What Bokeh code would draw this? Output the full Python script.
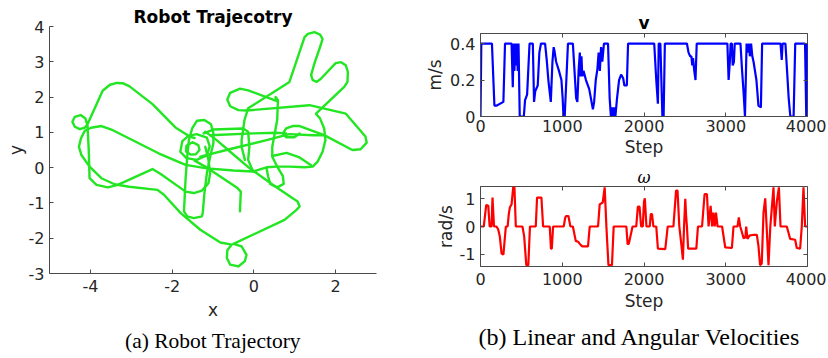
from bokeh.plotting import figure
from bokeh.models import (Range1d, FixedTicker, Title, LinearAxis, ColumnDataSource,
                          CustomJSTickFormatter)
from bokeh.layouts import row, column
from bokeh.embed import file_html
from bokeh.resources import INLINE

# ---------------- trajectory strokes (data units) ----------------
s1_x = [-0.22, -0.30, -0.30, -0.23, -0.14, 0.87, 1.24, 1.32, 1.48, 1.62, 1.68, 1.64, 1.48, 1.40, 1.44,
        1.54, 1.64, 2.00, 2.13, 2.25, 2.30, 2.29, 2.21, 1.52, 1.62, 1.72, 1.75, 1.68, 1.56, 1.44,
        1.24, 0.87, 0.55, 0.31, -0.02, -0.50, -1.15, -1.67, -2.32, -3.45, -3.73, -3.98, -4.14, -4.23, -4.28,
        -4.22, -4.02, -3.73, -3.41, -3.05, -2.36, -2.20, -1.79, -1.31, -0.82, -0.54, -0.65, -0.66, -0.58, -0.38,
        -0.22, -0.18, -0.30, -0.50, 0.75, 1.03, 1.12, 1.07, 0.95, 0.47, -0.10, -0.58, -0.91, -1.19]
s1_y = [0.22, 0.59, 0.78, 1.35, 1.68, 2.43, 3.70, 3.79, 3.84, 3.77, 3.65, 3.49, 2.95, 2.62, 2.48,
        2.43, 2.52, 2.96, 2.99, 2.90, 2.71, 2.43, 2.29, 1.53, 1.39, 1.11, 0.78, 0.45, 0.17, 0.03,
        0.01, 0.03, 0.03, 0.01, -0.11, -0.08, -0.02, 0.08, 0.40, 1.06, 1.18, 1.13, 1.04, 0.83, 0.59,
        0.36, 0.03, -0.30, -0.47, -0.54, -0.63, -0.77, -1.29, -1.76, -2.12, -2.18, -2.34, -2.56, -2.75, -2.80,
        -2.65, -2.47, -2.23, -2.16, -1.48, -1.21, -1.10, -0.96, -0.87, -0.49, -0.02, 0.45, 0.78, 1.02]

s2_x = [-1.45, -1.55, -1.92, -2.48, -3.05, -3.20, -3.35, -3.52, -3.70, -4.07, -4.14, -4.26, -4.38, -4.44,
        -4.38, -4.24, -4.12, -4.07, -4.04, -4.02, -3.85, -3.57, -3.33, -2.48, -2.28, -1.67, -1.47, -1.27,
        -1.11, -1.07, -1.11, -1.19]
s2_y = [0.84, 0.87, 1.14, 1.80, 2.31, 2.39, 2.40, 2.35, 2.18, 1.23, 1.13, 1.09, 1.16, 1.30,
        1.44, 1.49, 1.39, 1.20, 0.50, -0.30, -0.49, -0.56, -0.49, -0.04, -0.18, -0.68, -0.72, -0.65,
        -0.44, -0.16, 0.22, 0.59]

s3_x = [-0.99, -0.99, -1.05, -1.21, -1.39, -1.51, -1.59, -1.63, -1.67, -1.71, -1.63, -1.47, -1.27, -1.25,
        -1.21, -1.15, -1.07, -0.99]
s3_y = [0.69, 0.97, 1.23, 1.35, 1.33, 1.11, 0.78, 0.31, -0.30, -1.24, -1.38, -1.43, -1.38, -1.27,
        -0.72, -0.16, 0.31, 0.69]

s4_x = [-1.50, -1.36, -1.33, -1.42, -1.55, -1.66, -1.65, -1.50]
s4_y = [0.72, 0.64, 0.50, 0.38, 0.37, 0.46, 0.62, 0.72]

s5_x = [-1.40, -1.15, -1.08, -1.15, -1.40, -1.65, -1.80, -1.75, -1.60, -1.40]
s5_y = [0.95, 0.85, 0.60, 0.35, 0.22, 0.27, 0.45, 0.75, 0.90, 0.95]

s6_x = [-0.18, 1.36, 2.25, 2.73, 2.76, 2.61, 2.41, 1.72, 1.12, 0.95, 0.79, 0.71, 0.79, 0.99, 1.12]
s6_y = [1.62, 1.77, 1.53, 0.88, 0.71, 0.52, 0.50, 0.92, 1.18, 1.18, 1.11, 0.97, 0.86, 0.86, 0.97]

s7_x = [-0.18, -0.38, -0.58, -0.65, -0.58, -0.34, -0.14, 0.55, 0.53, 0.59, 0.57, 0.51, 0.45, 0.45,
        0.57, 0.71, 0.73, 0.57, 0.40, 0.35, 0.31]
s7_y = [1.62, 1.63, 1.74, 1.93, 2.12, 2.24, 2.19, 1.89, 2.00, 1.91, 1.35, 0.97, 0.59, 0.31,
        0.03, -0.24, -0.46, -0.56, -0.46, -0.25, -0.02]

s8_x = [-1.31, -0.50, 0.31, 0.87, 1.44, 1.72]
s8_y = [0.31, 0.55, 0.78, 0.95, 0.92, 0.92]

s9_x = [-1.23, -0.99, -0.26, -0.14, -0.11, -0.14, -0.02]
s9_y = [0.97, 1.08, 1.11, 1.02, 0.59, 0.22, -0.11]

s10_x = [-1.07, -0.02, 0.55, 0.79]
s10_y = [0.92, 0.97, 0.99, 0.97]

s11_x = [0.45, 0.80, 1.10, 1.40]
s11_y = [0.33, 0.42, 0.30, 0.07]

s12_x = [-0.34, -0.32, -0.42, -1.19, -1.45]
s12_y = [-1.24, -0.68, -0.56, 0.03, 0.20]

# ---------------- linear velocity v ----------------
v_step = [0, 10, 140, 170, 200, 280, 300, 380, 395, 405, 415, 425, 435, 445, 455, 465, 480, 530, 545, 570,
          600, 640, 655, 670, 700, 720, 740, 790, 810, 830, 860, 880, 895, 905, 925, 960, 990, 1005, 1015,
          1030, 1050, 1070, 1130, 1150, 1170, 1185, 1200, 1215, 1225, 1235, 1245, 1260, 1290, 1330, 1375,
          1390, 1410, 1430, 1445, 1460, 1475, 1490, 1510, 1560, 1580, 1595, 1610, 1620, 1635, 1650, 1670,
          1695, 1720, 1745, 1760, 1790, 1805, 2125, 2150, 2170, 2180, 2200, 2225, 2240, 2255, 2525, 2545,
          2565, 2580, 2590, 2600, 2615, 2630, 2645, 3020, 3035, 3050, 3060, 3075, 3085, 3100, 3110, 3180,
          3200, 3220, 3235, 3255, 3270, 3285, 3295, 3310, 3325, 3340, 3375, 3400, 3430, 3445, 3670, 3685,
          3695, 3730, 3750, 3770, 3790, 3830, 3850, 3970, 3985, 3995, 4000]
v_val = [0.0, 0.4, 0.4, 0.06, 0.06, 0.08, 0.4, 0.4, 0.16, 0.4, 0.25, 0.4, 0.28, 0.4, 0.25, 0.4, 0.0, 0.0,
         0.09, 0.12, 0.4, 0.4, 0.08, 0.14, 0.17, 0.35, 0.4, 0.4, 0.31, 0.2, 0.08, 0.3, 0.38, 0.36, 0.3, 0.25,
         0.2, 0.1, 0.0, 0.0, 0.2, 0.4, 0.4, 0.25, 0.1, 0.08, 0.25, 0.35, 0.22, 0.33, 0.22, 0.25, 0.2, 0.15,
         0.04, 0.08, 0.2, 0.26, 0.35, 0.25, 0.38, 0.3, 0.4, 0.4, 0.1, 0.0, 0.05, 0.0, 0.05, 0.0, 0.1, 0.2,
         0.23, 0.21, 0.17, 0.17, 0.4, 0.4, 0.2, 0.07, 0.4, 0.4, 0.0, 0.0, 0.4, 0.4, 0.35, 0.33, 0.33, 0.28,
         0.32, 0.25, 0.2, 0.4, 0.4, 0.2, 0.3, 0.4, 0.4, 0.28, 0.3, 0.4, 0.4, 0.25, 0.12, 0.0, 0.4, 0.35,
         0.4, 0.33, 0.4, 0.33, 0.3, 0.2, 0.06, 0.05, 0.4, 0.4, 0.31, 0.4, 0.4, 0.25, 0.1, 0.0, 0.0, 0.4,
         0.4, 0.0, 0.4, 0.38]

# ---------------- angular velocity omega ----------------
w_step = [0, 40, 70, 95, 112, 135, 147, 165, 195, 216, 236, 258, 280, 310, 332, 346, 360, 380, 400, 415,
          432, 513, 534, 560, 585, 605, 676, 692, 745, 766, 847, 862, 872, 888, 1018, 1035, 1045, 1075, 1100,
          1130, 1165, 1193, 1220, 1245, 1315, 1336, 1438, 1458, 1495, 1519, 1540, 1565, 1608, 1629, 1784,
          1800, 1815, 1860, 1905, 1925, 1945, 1965, 1985, 2000, 2010, 2030, 2070, 2083, 2098, 2115, 2150,
          2170, 2260, 2290, 2360, 2392, 2410, 2432, 2455, 2476, 2490, 2505, 2515, 2525, 2540, 2640, 2660,
          2710, 2741, 2770, 2790, 2815, 2833, 2848, 2865, 2880, 2900, 2955, 2994, 3075, 3095, 3144, 3160,
          3177, 3197, 3218, 3240, 3250, 3266, 3290, 3340, 3380, 3400, 3420, 3440, 3462, 3483, 3500, 3523,
          3545, 3584, 3600, 3625, 3650, 3670, 3747, 3788, 3849, 3869, 3910, 3930, 3951, 3971, 4000]
w_val = [0, 0, 0.78, 0.75, 0, 0, 1.05, 0, 0, -0.1, -0.35, -0.98, -1.02, 0, 0, 0.45, 0.7, 0.8, 1.42, 1.42,
         0, 0, -0.35, -1.4, -1.4, 0, 0, 1.05, 1.05, 0, 0, -0.8, -0.8, 0, 0, 0.3, 0.38, 0.38, 0,
         0, -0.52, -0.55, -0.65, -0.72, -0.72, 0, 0, 0.8, 0.87, 1.42, 0, -1.4, -1.4, 0, 0,
         -0.65, -0.62, 0, 0, 0.72, 0.72, 0, 0, 0.9, 1.02, 0, 0, 0.45, 0.45, 0, 0,
         -0.8, -0.82, 0, 0, 1.3, 1.3, 0, -0.6, -1.2, 0, 1.0, 0.4, 0, -0.8, -0.8, 0,
         0, 1.17, 1.17, 0, 0.75, 0, 0.5, 0, 0.5, 0, 0, -0.76, -0.78, 0, 0, 0.33,
         0, -0.2, -0.42, -0.4, 0, -0.45, -0.33, -0.3, -0.3, -0.7, -1.4, -1.35, 0.5, 1.02, 0, -1.4,
         0, 1.42, 0, 0.9, 1.42, 0, 0, -0.45, -0.48, -0.78, -0.8, 0, 1.42, 0, 0]

x_ticks_traj = [-4, -2, 0, 2]
x_labels_traj = ["-4", "-2", "0", "2"]
y_ticks_traj = [-3, -2, -1, 0, 1, 2, 3, 4]
y_labels_traj = ["-3", "-2", "-1", "0", "1", "2", "3", "4"]
step_ticks = [0, 1000, 2000, 3000, 4000]
v_ticks = [0, 0.2, 0.4]
v_labels = ["0", "0.2", "0.4"]
w_ticks = [-1, 0, 1]
w_labels = ["-1", "0", "1"]

AX = "#262626"
AXLINE = "#4a4a4a"
SANS = "DejaVu Sans"


def style_axis(ax, ticks, label, std=5, lstd=2, labels=None):
    ax.ticker = FixedTicker(ticks=ticks)
    if labels is not None:
        ax.major_label_overrides = dict(zip(ticks, labels))
    ax.axis_label = label
    ax.axis_label_text_font = SANS
    ax.axis_label_text_font_size = "17px"
    ax.axis_label_text_font_style = "normal"
    ax.axis_label_text_color = AX
    ax.major_label_text_font = SANS
    ax.major_label_text_font_size = "16px"
    ax.major_label_text_color = AX
    ax.axis_line_color = AXLINE
    ax.major_tick_line_color = AXLINE
    ax.major_tick_in = 4
    ax.major_tick_out = 0
    ax.minor_tick_line_color = None
    ax.major_label_standoff = std
    ax.axis_label_standoff = lstd


def box_ticks(p, xt, yt):
    for loc, t in (("above", xt), ("right", yt)):
        ax = LinearAxis(ticker=FixedTicker(ticks=t),
                        formatter=CustomJSTickFormatter(code="return ''"),
                        major_label_text_font_size="0px", major_label_standoff=0,
                        axis_line_color=None, major_tick_line_color=AXLINE,
                        major_tick_in=4, major_tick_out=0, minor_tick_line_color=None)
        p.add_layout(ax, loc)


def style_title(t, text, font, style, size="17px"):
    t.text = text
    t.align = "center"
    t.text_font = font
    t.text_font_size = size
    t.text_font_style = style
    t.text_color = "black"
    t.standoff = 0


# ---------------- left: trajectory ----------------
p1 = figure(width=420, height=356, x_range=Range1d(-5, 3), y_range=Range1d(-3, 4),
            output_backend="svg", toolbar_location=None,
            min_border_left=49, min_border_right=44, min_border_top=26, min_border_bottom=83)
p1.outline_line_color = None
p1.grid.visible = False
style_title(p1.title, "Robot Trajecotry", SANS, "bold")
style_axis(p1.xaxis[0], x_ticks_traj, "x", std=6, lstd=5, labels=x_labels_traj)
style_axis(p1.yaxis[0], y_ticks_traj, "y", std=5, lstd=0, labels=y_labels_traj)

traj = ColumnDataSource(dict(
    xs=[s1_x, s2_x, s3_x, s4_x, s5_x, s6_x, s7_x, s8_x, s9_x, s10_x, s11_x, s12_x],
    ys=[s1_y, s2_y, s3_y, s4_y, s5_y, s6_y, s7_y, s8_y, s9_y, s10_y, s11_y, s12_y]))
p1.multi_line(xs="xs", ys="ys", source=traj, line_color="#22e622", line_width=2.4,
              line_join="round", line_cap="round")
p1.add_layout(Title(text="(a) Robot Trajectory", align="center", text_font="Liberation Serif",
                    text_font_size="21.5px", text_font_style="normal", text_color="black",
                    standoff=8), "below")

# ---------------- right top: v ----------------
p2 = figure(width=406, height=162, x_range=Range1d(0, 4000), y_range=Range1d(0, 0.455),
            output_backend="svg", toolbar_location=None,
            min_border_left=60, min_border_right=19, min_border_top=33, min_border_bottom=46)
p2.grid.visible = False
p2.outline_line_color = AXLINE
style_title(p2.title, "v", SANS, "bold")
p2.title.standoff = 2
style_axis(p2.xaxis[0], step_ticks, "Step", std=3, lstd=2)
style_axis(p2.yaxis[0], v_ticks, "m/s", std=5, lstd=2, labels=v_labels)
box_ticks(p2, step_ticks, v_ticks)
p2.line(v_step, v_val, line_color="#0000ff", line_width=2.2)

# ---------------- right bottom: omega ----------------
p3 = figure(width=406, height=195, x_range=Range1d(0, 4000), y_range=Range1d(-1.45, 1.45),
            output_backend="svg", toolbar_location=None,
            min_border_left=60, min_border_right=19, min_border_top=24, min_border_bottom=91)
p3.grid.visible = False
p3.outline_line_color = AXLINE
style_title(p3.title, "ω", "DejaVu Serif", "italic", size="16px")
style_axis(p3.xaxis[0], step_ticks, "Step", std=6, lstd=3)
style_axis(p3.yaxis[0], w_ticks, "rad/s", std=5, lstd=1, labels=w_labels)
box_ticks(p3, step_ticks, w_ticks)
p3.line(w_step, w_val, line_color="#ff0000", line_width=2.2)
p3.add_layout(Title(text="(b) Linear and Angular Velocities", align="left", text_font="Liberation Serif",
                    text_font_size="24px", text_font_style="normal", text_color="black",
                    standoff=16, offset=-2), "below")

layout = row(p1, column(p2, p3))
open("out.html", "w").write(file_html(layout, INLINE))
